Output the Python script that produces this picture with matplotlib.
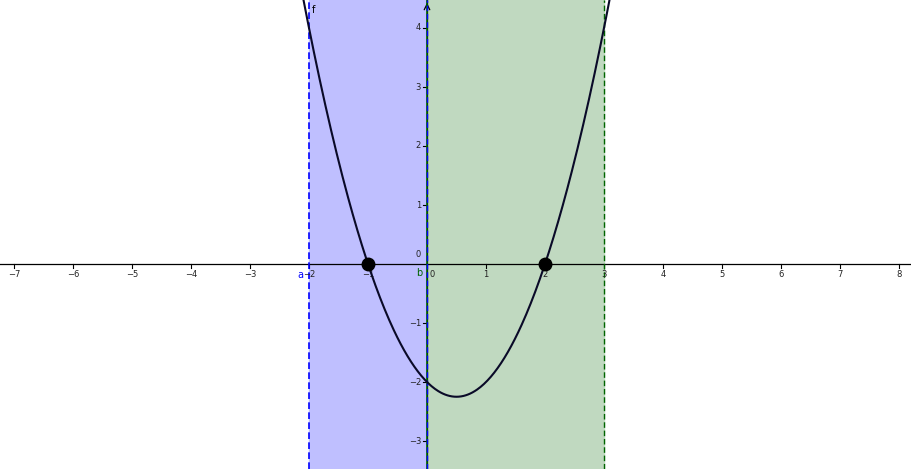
import numpy as np
import matplotlib
matplotlib.use("Agg")
import matplotlib.pyplot as plt

# f(x) = x^2 - x - 2
coeffs = [1, -1, -2]
roots = [-1, 2]
a_val, b_val, c_val = -2, 0, 3
x_ticks = [-7, -6, -5, -4, -3, -2, -1, 1, 2, 3, 4, 5, 6, 7, 8]
y_ticks = [-3, -2, -1, 1, 2, 3, 4]

fig = plt.figure(figsize=(9.12, 4.69), dpi=100)
ax = fig.add_axes([0, 0, 1, 1])
xmin, xmax = -427 / 59.0, 485 / 59.0
ymin, ymax = -205 / 59.0, 264 / 59.0
ax.set_xlim(xmin, xmax)
ax.set_ylim(ymin, ymax)
ax.axis("off")

# shaded regions
ax.axvspan(a_val, b_val, color="#bfbfff", zorder=0)
ax.axvspan(b_val, c_val, color="#c0d9c0", zorder=0)

# vertical lines
ax.axvline(a_val, color="#0000ff", ls=(0, (4, 2)), lw=1.2, zorder=2)
ax.axvline(b_val, color="#006400", ls="-", lw=1.2, zorder=2)
ax.axvline(b_val, color="#0000ff", ls=(0, (4, 2)), lw=1.0, zorder=2)
ax.axvline(c_val, color="#006400", ls=(0, (4, 2)), lw=1.0, zorder=2)

# axes
ax.axhline(0, color="black", lw=0.9, zorder=1)
ax.axvline(0, color="black", lw=0.9, zorder=1)
ax.annotate("", xy=(0, ymax), xytext=(0, ymax - 0.15),
            arrowprops=dict(arrowstyle="->", color="black", lw=0.9), zorder=1)
for t in x_ticks:
    ax.plot([t, t], [0, -0.06], color="black", lw=0.8, zorder=1)
    ax.text(t, -0.1, str(t).replace("-", "\u2212"), ha="center", va="top", fontsize=6, color="#222222")
ax.text(0.08, -0.1, "0", ha="center", va="top", fontsize=6, color="#222222")
for t in y_ticks:
    ax.plot([0, -0.06], [t, t], color="black", lw=0.8, zorder=1)
    ax.text(-0.1, t, str(t).replace("-", "\u2212"), ha="right", va="center", fontsize=6, color="#222222")
ax.text(-0.1, 0.08, "0", ha="right", va="bottom", fontsize=6, color="#222222")

# curve
xs = np.linspace(xmin, xmax, 800)
ys = np.polyval(coeffs, xs)
ax.plot(xs, ys, color="#0a0a28", lw=1.5, zorder=3)

# roots
ax.plot(roots, [0, 0], "o", color="black", ms=9, zorder=4)

# labels
ax.text(a_val - 0.09, -0.1, "a", color="#0000ff", ha="right", va="top", fontsize=7)
ax.text(b_val - 0.08, -0.07, "b", color="#006400", ha="right", va="top", fontsize=7)
ax.text(-1.96, 4.3, "f", color="#000000", ha="left", va="center", fontsize=7)

fig.savefig("out.png", dpi=100)
